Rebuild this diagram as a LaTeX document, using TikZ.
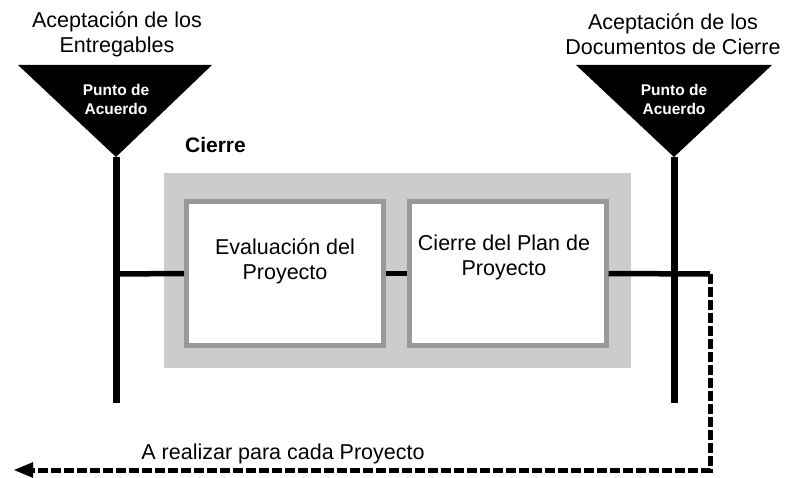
\documentclass[tikz,border=0pt]{standalone}
\usepackage{fontspec}
\setmainfont{Liberation Sans}
\usetikzlibrary{arrows.meta}
\definecolor{bggray}{HTML}{CCCCCC}
\definecolor{boxgray}{HTML}{999999}
\begin{document}
\begin{tikzpicture}[x=1pt,y=-1pt,
  lbl/.style={font=\fontsize{21.5}{25}\selectfont, align=center, inner sep=0},
  titlelbl/.style={font=\bfseries\fontsize{21}{25}\selectfont, inner sep=0},
  trilbl/.style={font=\bfseries\fontsize{15.5}{19}\selectfont, text=white, align=center, inner sep=0},
  post/.style={line width=7pt},
  link/.style={line width=5.5pt},
  dashline/.style={line width=5pt, dash pattern=on 10pt off 3pt},
  bgbox/.style={fill=bggray, minimum width=467pt, minimum height=195pt, inner sep=0},
  stepbox/.style={draw=boxgray, line width=5pt, fill=white, minimum width=197pt, minimum height=144pt, inner sep=0}]
\useasboundingbox (0,0) rectangle (787,478);

% header labels
\node[lbl] (hL) at (117,34.5) {Aceptación de los\\Entregables};
\node[lbl] (hR) at (673,34.5) {Aceptación de los\\Documentos de Cierre};

% triangles (agreement points)
\coordinate (apexL) at (116,157);
\coordinate (apexR) at (674,157);
\fill (18,65) -- (212,65) -- (apexL) -- cycle;
\fill (576,65) -- (772,65) -- (apexR) -- cycle;
\node[trilbl] (pL) at (116,99) {Punto de\\Acuerdo};
\node[trilbl] (pR) at (674,99) {Punto de\\Acuerdo};

% posts
\coordinate (endL) at (116,403);
\coordinate (endR) at (674,403);
\draw[post] (apexL) -- (endL);
\draw[post] (apexR) -- (endR);

% phase
\node[titlelbl] (cierre) at (215.5,145) {Cierre};
\node[bgbox] (bg) at (397.5,270.5) {};

\coordinate (jL) at (116,274);
\coordinate (rr) at (710,274);
\coordinate (corner) at (710,470);
\coordinate (tip) at (13,470);

\node[stepbox] (b1) at (285,273.5) {};
\node[stepbox] (b2) at (507.5,273.5) {};
\node[lbl] (t1) at (285,261.5) {Evaluación del\\Proyecto};
\node[lbl] (t2) at (504,257.5) {Cierre del Plan de\\Proyecto};

\draw[link] (jL) -- (b1.west);
\draw[link] (b1.east) -- (b2.west);
\draw[link] (b2.east) -- (rr);

% loop back
\draw[dashline, -{Triangle[length=20pt,width=14pt]}] (rr) -- (corner) -- (tip);
\node[lbl] (loop) at (283,454) {A realizar para cada Proyecto};
\end{tikzpicture}
\end{document}
